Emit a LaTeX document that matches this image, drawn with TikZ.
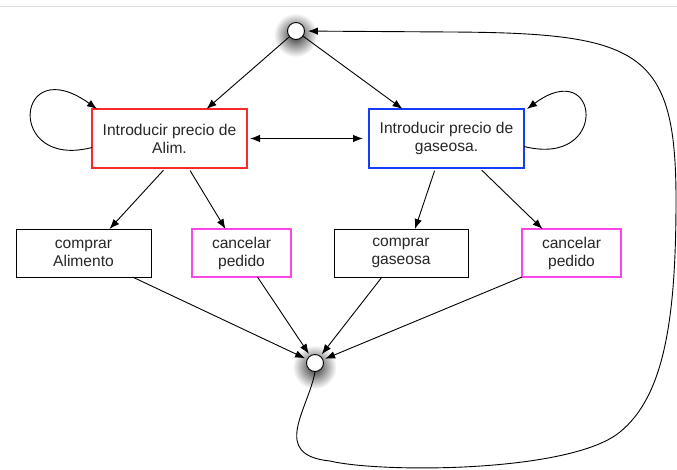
\documentclass[tikz,border=0pt]{standalone}
\usepackage{fontspec}
\setmainfont{Liberation Sans}
\usetikzlibrary{positioning, arrows.meta}
\definecolor{alimred}{RGB}{250,40,45}
\definecolor{gasblue}{RGB}{20,60,250}
\definecolor{pedidopink}{RGB}{250,70,230}

\begin{document}
\begin{tikzpicture}[
    x=1pt, y=-1pt,
    font=\fontsize{15.6}{18}\selectfont,
    box/.style={draw, rectangle, inner sep=0pt, outer sep=0pt, minimum height=48pt, align=center, text=black!85, line width=0.9pt},
    alimbox/.style={box, draw=alimred, line width=2.2pt, minimum width=155pt, minimum height=59pt},
    gasbox/.style={box, draw=gasblue, line width=2.2pt, minimum width=155pt, minimum height=59pt},
    cancelbox/.style={box, draw=pedidopink, line width=2.2pt, minimum width=99pt},
    dot/.style={circle, draw, fill=white, minimum size=17pt, inner sep=0pt, line width=0.9pt},
    glow/.style={inner color=black!80, outer color=white},
    arrow/.style={-{Latex[length=10pt,width=7.5pt]}, line width=0.9pt},
    twoway/.style={{Latex[length=10pt,width=7.5pt]}-{Latex[length=10pt,width=7.5pt]}, line width=0.9pt}
]
\useasboundingbox (0,0) rectangle (677,470);
\draw[black!12] (0,6) -- (677,6);

% sombras
\shade[glow] (295.5,35) circle (22pt);
\shade[glow] (314.5,367) circle (22pt);

\node[dot] (ini) at (296,31) {};
\node[dot] (fin) at (315,363) {};
\node[alimbox] (alim) at (169.5,138.5) {Introducir precio de\\Alim.};
\node[gasbox, right=122pt of alim] (gas) {Introducir precio de\\gaseosa.};
\node[box, minimum width=135pt] (compA) at (83.5,253) {comprar\\Alimento};
\node[cancelbox, right=41pt of compA] (cancA) {cancelar\\pedido};
\node[box, minimum width=134pt, right=43pt of cancA] (compG) {comprar\\gaseosa};
\node[cancelbox, right=54pt of compG] (cancG) {cancelar\\pedido};

% desde el inicio
\draw[arrow] (ini) -- ([xshift=37pt]alim.north);
\draw[arrow] (ini) -- ([xshift=-44pt]gas.north);
\draw[twoway, shorten <=3pt, shorten >=6pt] (alim.east) -- (gas.west);

% bucles
\draw[arrow] ([yshift=-9pt]alim.west) .. controls (5,170) and (15,50) .. ([xshift=5pt]alim.north west);
\draw[arrow] ([yshift=-8pt]gas.east) .. controls (610,168) and (600,55) .. ([xshift=3pt]gas.north east);

% opciones
\draw[arrow, shorten <=3pt] ([xshift=-4pt]alim.south) -- ([xshift=26pt]compA.north);
\draw[arrow, shorten <=3pt] ([xshift=19pt]alim.south) -- ([xshift=-16pt]cancA.north);
\draw[arrow, shorten <=3pt] ([xshift=-11pt]gas.south) -- ([xshift=14pt]compG.north);
\draw[arrow, shorten <=3pt] ([xshift=33pt]gas.south) -- ([xshift=-29pt]cancG.north);

% hacia el fin
\draw[arrow, shorten >=2pt] ([xshift=49pt]compA.south) -- (fin);
\draw[arrow, shorten >=2pt] ([xshift=16pt]cancA.south) -- (fin);
\draw[arrow, shorten >=2pt] ([xshift=-19pt]compG.south) -- (fin);
\draw[arrow, shorten >=2pt] (cancG.south west) -- (fin);

% vuelta al inicio
\draw[arrow, shorten >=3pt] (fin.south) .. controls (308,410) and (270,455) .. (330,461)
    .. controls (380,473) and (570,473) .. (620,432)
    .. controls (664,396) and (676,320) .. (676,200)
    .. controls (676,50) and (640,33) .. (450,32) -- (ini);
\end{tikzpicture}
\end{document}
